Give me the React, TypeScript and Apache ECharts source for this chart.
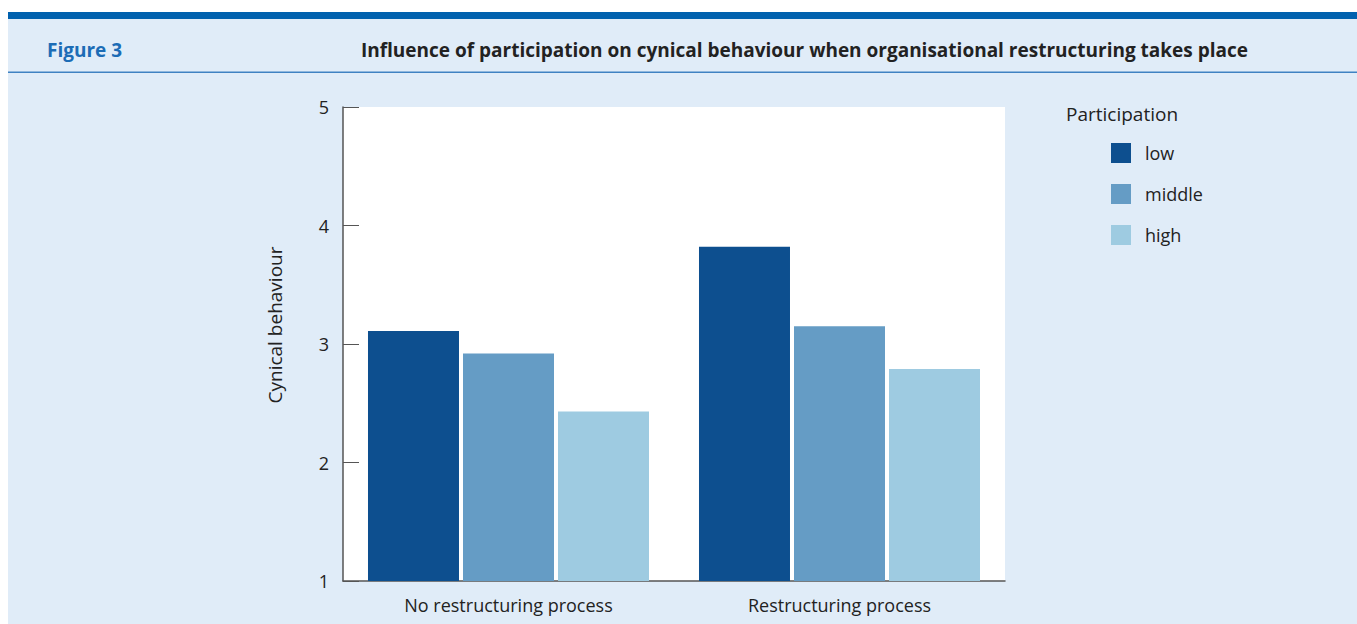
import React, { useEffect, useRef } from "react";
import * as echarts from "echarts";

const categories = ["No restructuring process", "Restructuring process"];
const seriesNames = ["low", "middle", "high"];
const lowValues = [3.11, 3.82];
const middleValues = [2.92, 3.15];
const highValues = [2.43, 2.79];
const seriesColors = ["#0d4f8f", "#659cc5", "#9ecbe1"];
const yTicks = { min: 1, max: 5, interval: 1 };

const FONT = "'Open Sans', 'Noto Sans', sans-serif";

export default function App() {
  const ref = useRef<HTMLDivElement>(null);
  useEffect(() => {
    if (!ref.current) return;
    const chart = echarts.init(ref.current, undefined, { renderer: "svg" });
    const values = [lowValues, middleValues, highValues];
    chart.setOption({
      animation: false,
      backgroundColor: "#ffffff",
      textStyle: { fontFamily: FONT },
      graphic: [
        { type: "rect", shape: { x: 8, y: 12, width: 1349, height: 612 }, style: { fill: "#e0ecf8" }, z: -10 },
        { type: "rect", shape: { x: 8, y: 12, width: 1349, height: 7 }, style: { fill: "#0061ae" }, z: -9 },
        { type: "rect", shape: { x: 8, y: 71.5, width: 1349, height: 1.5 }, style: { fill: "#3f82c2" }, z: -9 },
        {
          type: "text", x: 47, y: 50,
          style: { text: "Figure 3", fill: "#1c6cb6", font: `bold 19px ${FONT}`, textAlign: "left", textVerticalAlign: "middle" },
        },
        {
          type: "text", x: 1248, y: 50,
          style: {
            text: "Influence of participation on cynical behaviour when organisational restructuring takes place",
            fill: "#222", font: `bold 19px ${FONT}`, textAlign: "right", textVerticalAlign: "middle",
          },
        },
        {
          type: "text", x: 275, y: 325, rotation: Math.PI / 2,
          style: { text: "Cynical behaviour", fill: "#222", font: `19px ${FONT}`, textAlign: "center", textVerticalAlign: "middle" },
        },
        {
          type: "text", x: 1066, y: 114,
          style: { text: "Participation", fill: "#222", font: `19px ${FONT}`, textAlign: "left", textVerticalAlign: "middle" },
        },
      ],
      legend: {
        orient: "vertical",
        left: 1111,
        top: 143,
        padding: 0,
        itemWidth: 20,
        itemHeight: 20,
        itemGap: 21,
        icon: "rect",
        data: seriesNames,
        textStyle: { fontSize: 18, color: "#222", fontFamily: FONT, padding: [0, 0, 0, 9] },
      },
      grid: {
        left: 343, top: 107, width: 662, height: 474,
        show: true, backgroundColor: "#ffffff", borderWidth: 0,
      },
      xAxis: {
        type: "category",
        data: categories,
        axisLine: { lineStyle: { color: "#555", width: 1.5 } },
        axisTick: { inside: true, length: 10, lineStyle: { color: "#555" } },
        axisLabel: { fontSize: 18, color: "#222", margin: 15, fontFamily: FONT },
        splitLine: { show: false },
      },
      yAxis: {
        type: "value",
        min: yTicks.min, max: yTicks.max, interval: yTicks.interval,
        axisLine: { show: true, lineStyle: { color: "#555", width: 1.5 } },
        axisTick: { show: true, inside: true, length: 16, lineStyle: { color: "#555" } },
        axisLabel: { fontSize: 18, color: "#222", margin: 14, fontFamily: FONT },
        splitLine: { show: false },
      },
      series: seriesNames.map((name, i) => ({
        name,
        type: "bar",
        data: values[i],
        barWidth: 91,
        barGap: "4.4%",
        itemStyle: { color: seriesColors[i] },
      })),
    });
    return () => chart.dispose();
  }, []);
  return <div ref={ref} style={{ position: "absolute", left: 0, top: 0, width: 1357, height: 624 }} />;
}
